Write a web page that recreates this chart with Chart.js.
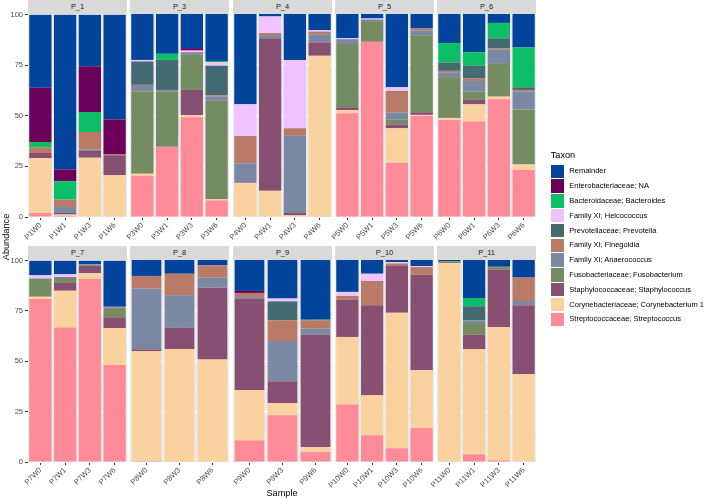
<!DOCTYPE HTML>
<html lang="EN">
<head>
<meta charset="utf-8">
<title>Taxon abundance</title>
<style>
  body { margin: 0; background: #fff; font-family: "Liberation Sans", Arial, sans-serif; }
  #wrap { position: relative; width: 709px; height: 500px; overflow: hidden; }
  canvas { position: absolute; }
  .strip { position: absolute; height: 14px; line-height: 14px; background: #D9D9D9; color: #1A1A1A; font-size: 7.4px; text-align: center; }
  .title { position: absolute; color: #000; font-size: 9.2px; white-space: nowrap; }
  .key { position: absolute; width: 13.5px; height: 13.5px; }
  .keytext { position: absolute; font-size: 7.5px; line-height: 10px; color: #000; white-space: nowrap; }
</style>
</head>
<body>
<div id="wrap"></div>

<script src="https://cdn.jsdelivr.net/npm/chart.js"></script>
<script>
// stack order, bottom to top
const taxa = [
  'Streptococcaceae; Streptococcus',
  'Corynebacteriaceae; Corynebacterium 1',
  'Staphylococcaceae; Staphylococcus',
  'Fusobacteriaceae; Fusobacterium',
  'Family XI; Anaerococcus',
  'Family XI; Finegoldia',
  'Prevotellaceae; Prevotella',
  'Family XI; Helcococcus',
  'Bacteroidaceae; Bacteroides',
  'Enterobacteriaceae; NA',
  'Remainder'
];
const colors = ['#FF8A98', '#F9D2A0', '#875072', '#758B62', '#7A88A4', '#B97A67',
                '#436B71', '#EEC3FF', '#0CBF67', '#6B0059', '#02449C'];

const yTicks = [0, 25, 50, 75, 100];

const panelNames = [['P_1', 'P_3', 'P_4', 'P_5', 'P_6'], ['P_7', 'P_8', 'P_9', 'P_10', 'P_11']];

const samples = {
  P_1: ['P1W0', 'P1W1', 'P1W3', 'P1W6'],
  P_3: ['P3W0', 'P3W1', 'P3W3', 'P3W6'],
  P_4: ['P4W0', 'P4W1', 'P4W3', 'P4W6'],
  P_5: ['P5W0', 'P5W1', 'P5W3', 'P5W6'],
  P_6: ['P6W0', 'P6W1', 'P6W3', 'P6W6'],
  P_7: ['P7W0', 'P7W1', 'P7W3', 'P7W6'],
  P_8: ['P8W0', 'P8W3', 'P8W6'],
  P_9: ['P9W0', 'P9W3', 'P9W6'],
  P_10: ['P10W0', 'P10W1', 'P10W3', 'P10W6'],
  P_11: ['P11W0', 'P11W1', 'P11W3', 'P11W6']
};

// one row per sample, values in taxa order
const P_1 = [
  [2, 27, 2.6, 0, 0, 2.8, 0, 0, 2.6, 26.8, 36.2],
  [0.6, 0.6, 0.8, 0, 3, 3.6, 0, 0, 9, 5.8, 76.6],
  [0, 29.3, 3.3, 0, 0.7, 8.7, 0, 0, 9.9, 22.6, 25.5],
  [0, 20.6, 9.9, 0, 0, 0.6, 0, 0, 0, 17, 51.9]
];
const P_3 = [
  [20.3, 1, 0, 40.5, 3.3, 0, 11.5, 0.8, 0, 0, 22.6],
  [34.6, 0, 0, 27.2, 0.8, 0, 14.8, 0, 3, 0, 19.6],
  [49.1, 1, 12.5, 17.3, 1.3, 0, 0, 0.8, 0, 1.2, 16.8],
  [8.2, 0.5, 0, 48.5, 2.1, 0.7, 14.5, 1.8, 0.6, 0, 23.1]
];
const P_4 = [
  [0, 16.8, 0.3, 0, 9.3, 13.5, 0, 15.6, 0, 0, 44.5],
  [0, 12.9, 75.2, 0, 1.5, 1, 0, 8.2, 0, 0, 1.2],
  [0, 0.8, 1.2, 0, 38, 3.7, 0, 33.7, 0, 0, 22.6],
  [0.3, 79.1, 6.6, 0, 4, 1.3, 0, 0.8, 0, 0, 7.9]
];
const P_5 = [
  [51.1, 1.6, 1.3, 31.2, 2.4, 0, 0, 0.5, 0, 0, 11.9],
  [86.3, 0, 0, 10.2, 0.8, 0, 0, 0.5, 0, 0, 2.2],
  [26.7, 17, 1.9, 2.5, 3.3, 10.7, 0, 1.8, 0, 0, 36.1],
  [49.8, 0.5, 1.3, 37.9, 2.4, 1, 0, 0, 0, 0, 7.1]
];
const P_6 = [
  [47.8, 1, 0, 20.1, 2.4, 0.7, 4.1, 0, 9.6, 0, 14.3],
  [47, 8.5, 2.2, 4.1, 5.2, 1.2, 6.3, 0, 6.7, 0, 18.8],
  [58, 1.3, 0, 16.5, 6.6, 0.6, 5, 0, 7.6, 0, 4.4],
  [23.1, 2.8, 0, 27.1, 8.8, 0.8, 1.3, 0, 19.6, 0, 16.5]
];
const P_7 = [
  [80.9, 1.1, 0, 9.1, 0, 0, 0, 1.6, 0, 0, 7.3],
  [66.8, 18.2, 3.8, 2.5, 0.5, 0, 0, 1.4, 0, 0, 6.8],
  [90.8, 2.9, 3.7, 0.5, 0.3, 0, 0, 0, 0, 0, 1.8],
  [48.2, 18.3, 5.3, 4.1, 0.7, 0.5, 0, 0, 0, 0, 22.9]
];
const P_8 = [
  [0.5, 54.3, 1, 0, 30, 6.3, 0, 0, 0, 0, 7.9],
  [0.3, 55.6, 10.6, 0, 16, 10.7, 0, 0, 0, 0, 6.8],
  [0, 50.7, 35.6, 0, 5, 6.1, 0, 0, 0, 0, 2.6]
];
const P_9 = [
  [10.7, 24.8, 45.4, 0, 0.8, 2, 0, 0, 0, 1, 15.3],
  [23.1, 6.1, 10.7, 0, 20, 10.2, 9.4, 1.4, 0, 0, 19.1],
  [5, 2.4, 55.6, 0, 3, 4.1, 0.5, 0, 0, 0, 29.4]
];
const P_10 = [
  [28.5, 33.4, 18.5, 0, 0, 1.8, 0, 2, 0, 0, 15.8],
  [13.2, 19.8, 44.6, 0, 0, 12, 0, 3.6, 0, 0, 6.8],
  [6.8, 67.1, 23.1, 0, 0, 1.3, 0, 0.7, 0, 0, 1],
  [16.8, 28.6, 47.3, 0, 0, 3.8, 0, 0.5, 0, 0, 3]
];
const P_11 = [
  [0, 98.5, 0, 0.8, 0, 0, 0, 0, 0, 0, 0.7],
  [3.8, 52, 7.2, 5.8, 1.3, 0, 7, 0, 4.1, 0, 18.8],
  [0.8, 66, 28.4, 1.2, 0, 0, 0.6, 0, 0, 0, 3],
  [0, 43.4, 34.2, 0, 2.1, 11.6, 0, 0, 0, 0, 8.7]
];
const values = { P_1, P_3, P_4, P_5, P_6, P_7, P_8, P_9, P_10, P_11 };

// layout
const FONT = '"Liberation Sans", Arial, sans-serif';
const panelLeft = [28, 130, 233, 335, 437];
const panelW = 99;
const areaTop = [14, 260];
const areaH = [203, 202];
const stripH = 14;
const padTop = 6, side = 20, xAxisH = 34, yAxisW = 28;

const wrap = document.getElementById('wrap');

const panelBg = {
  id: 'panelBg',
  beforeDraw(chart) {
    const a = chart.chartArea, c = chart.ctx;
    c.save();
    c.fillStyle = '#EBEBEB';
    c.fillRect(a.left, a.top, a.right - a.left, a.bottom - a.top);
    c.restore();
  }
};

function addDiv(cls, text, style) {
  const d = document.createElement('div');
  d.className = cls;
  d.textContent = text;
  Object.assign(d.style, style);
  wrap.appendChild(d);
  return d;
}

panelNames.forEach((row, r) => {
  row.forEach((name, i) => {
    const first = i === 0;
    addDiv('strip', name, {
      left: panelLeft[i] + 'px', top: (areaTop[r] - stripH) + 'px', width: panelW + 'px'
    });

    const cv = document.createElement('canvas');
    const cLeft = first ? panelLeft[i] - yAxisW : panelLeft[i] - side;
    const cW = first ? yAxisW + panelW + side : side + panelW + side;
    const cH = padTop + areaH[r] + xAxisH;
    cv.width = cW; cv.height = cH;
    cv.style.left = cLeft + 'px';
    cv.style.top = (areaTop[r] - padTop) + 'px';
    wrap.appendChild(cv);

    const rows = values[name];
    const datasets = taxa.map((t, k) => ({
      label: t,
      data: rows.map(v => v[k]),
      backgroundColor: colors[k],
      borderWidth: 0,
      barPercentage: 0.9,
      categoryPercentage: 1
    }));

    new Chart(cv, {
      type: 'bar',
      data: { labels: samples[name], datasets },
      options: {
        responsive: false,
        animation: false,
        devicePixelRatio: 1,
        layout: { padding: { top: padTop, bottom: 0, left: first ? 0 : side, right: side } },
        plugins: { legend: { display: false }, tooltip: { enabled: false } },
        scales: {
          x: {
            stacked: true,
            offset: true,
            border: { display: false },
            grid: { color: '#FFFFFF', lineWidth: 1, offset: false, tickColor: '#333333', tickLength: 3 },
            ticks: {
              minRotation: 45, maxRotation: 45, autoSkip: false, padding: 1,
              color: '#4D4D4D', font: { size: 7.5, family: FONT }
            },
            afterFit: s => { s.height = xAxisH; }
          },
          y: {
            stacked: true,
            min: 0, max: 100,
            border: { display: false },
            grid: {
              color: '#FFFFFF',
              lineWidth: ctx => (ctx.tick && yTicks.includes(ctx.tick.value)) ? 1 : 0.5,
              tickColor: ctx => (ctx.tick && yTicks.includes(ctx.tick.value)) ? '#333333' : 'rgba(0,0,0,0)',
              tickLength: 3,
              drawTicks: first
            },
            ticks: {
              display: first,
              stepSize: 12.5,
              padding: 2,
              color: '#4D4D4D',
              font: { size: 7.5, family: FONT },
              callback: v => yTicks.includes(v) ? String(v) : ''
            },
            afterFit: s => { s.width = first ? yAxisW : 0; }
          }
        }
      },
      plugins: [panelBg]
    });
  });
});

// axis titles
addDiv('title', 'Sample', { left: '0px', width: (2 * 282) + 'px', top: '488px', textAlign: 'center' });
const yt = addDiv('title', 'Abundance', { left: '-24px', top: '232px', width: '60px', textAlign: 'center', transform: 'rotate(-90deg)' });

// legend
addDiv('title', 'Taxon', { left: '550.7px', top: '149.5px' });
taxa.slice().reverse().forEach((t, j) => {
  const k = taxa.length - 1 - j;
  const y = 164.5 + j * 14.8;
  addDiv('key', '', { left: '550.7px', top: y + 'px', background: colors[k] });
  addDiv('keytext', t, { left: '569.3px', top: (y + 1.8) + 'px' });
});
</script>
</body>
</html>
